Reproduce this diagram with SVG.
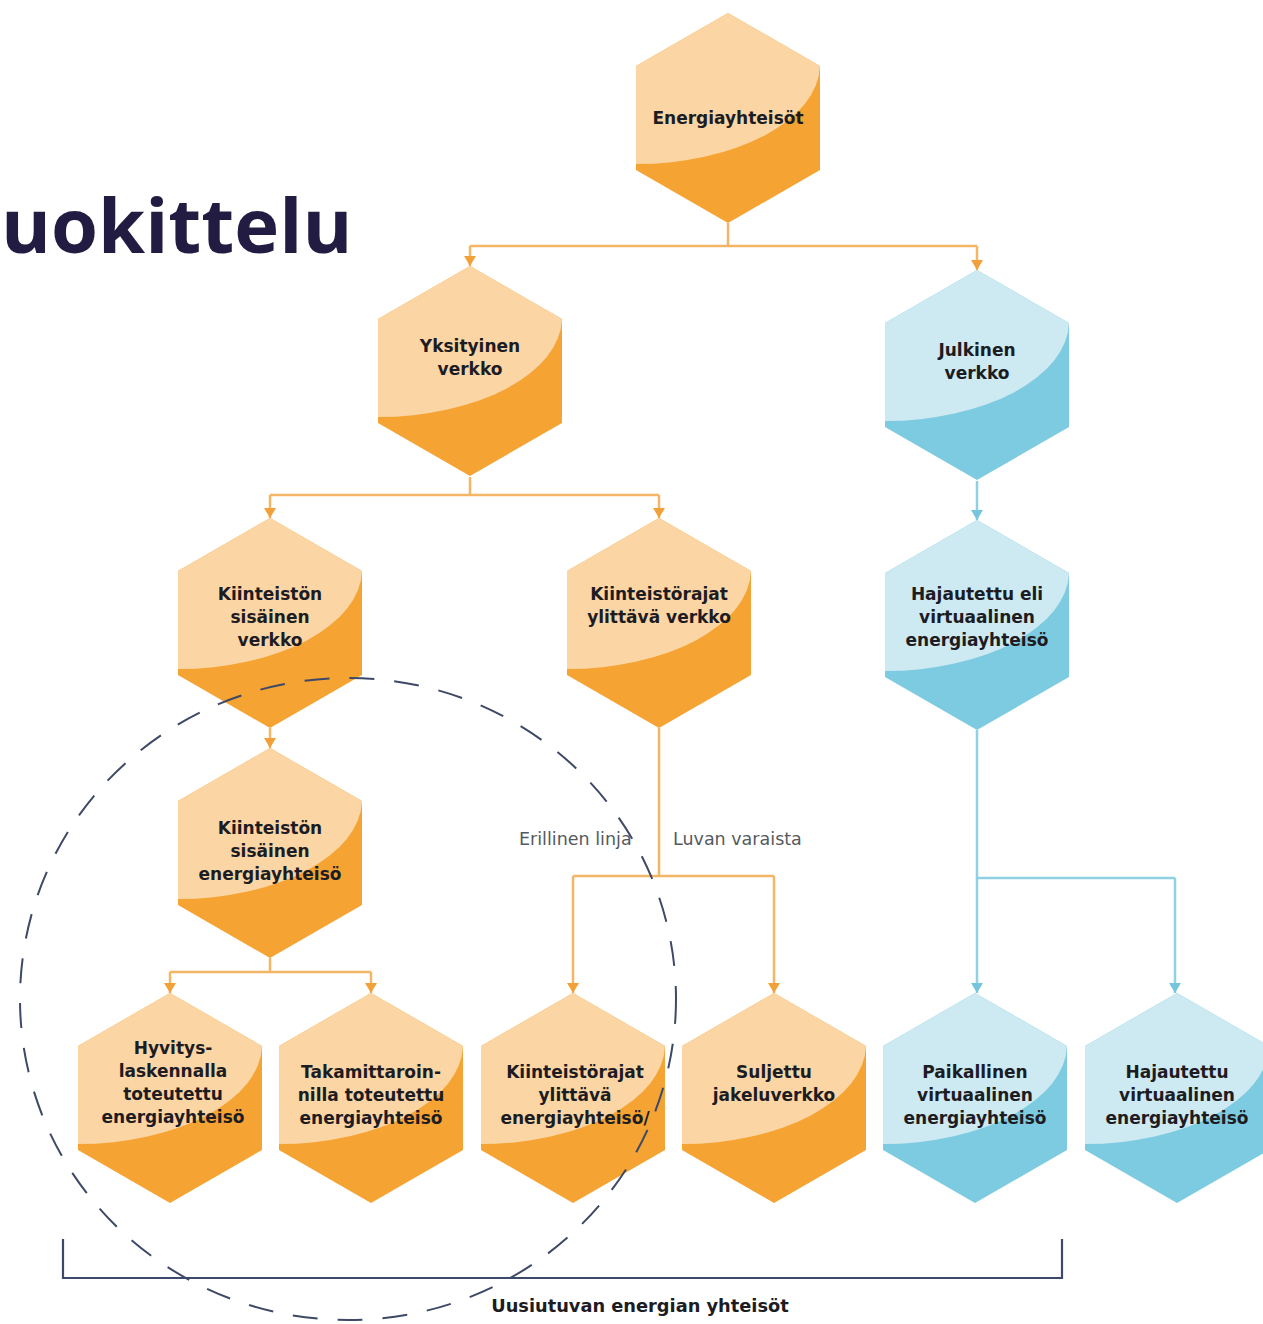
<svg xmlns="http://www.w3.org/2000/svg" xmlns:xlink="http://www.w3.org/1999/xlink" width="1263" height="1324" viewBox="0 0 1263 1324">
<style>
.oD{fill:#f5a333}.oL{fill:#fbd6a4}.bD{fill:#7dcbe0}.bL{fill:#cde9f2}
.t{font-family:"DejaVu Sans",sans-serif;font-weight:bold;font-size:17px;fill:#1c1c22;text-anchor:middle}
.lo{fill:none;stroke:#f4b666;stroke-width:2.5}
.lb{fill:none;stroke:#8fd1e3;stroke-width:2.5}
.lab{font-family:"DejaVu Sans",sans-serif;font-size:17.5px;fill:#555a61}
</style>
<defs>
<path id="hex" d="M0,-105 L92,-52 L92,52 L0,105 L-92,52 L-92,-52 Z"/>
<path id="lit" d="M-92,46 L-92,-52 L0,-105 L92,-52 A184,100 0 0 1 -92,46 Z"/>
<marker id="ao" viewBox="0 -6 10 12" refX="10" refY="0" markerWidth="10" markerHeight="12" markerUnits="userSpaceOnUse" orient="auto"><path d="M0,-6 L10,0 L0,6 Z" fill="#f2a038"/></marker>
<marker id="ab" viewBox="0 -6 10 12" refX="10" refY="0" markerWidth="10" markerHeight="12" markerUnits="userSpaceOnUse" orient="auto"><path d="M0,-6 L10,0 L0,6 Z" fill="#74c5dd"/></marker>
</defs>
<rect width="1263" height="1324" fill="#ffffff"/>
<text x="1" y="253" style="font-family:'Open Sans',sans-serif;font-weight:bold;font-size:76px;fill:#231c42">uokittelu</text>

<g id="connectors">
<path class="lo" d="M728,223 V246 M470,246 H977"/>
<path class="lo" d="M470,246 V266" marker-end="url(#ao)"/>
<path class="lo" d="M977,246 V270" marker-end="url(#ao)"/>
<path class="lo" d="M470,477 V495 M270,495 H659"/>
<path class="lo" d="M270,495 V518" marker-end="url(#ao)"/>
<path class="lo" d="M659,495 V518" marker-end="url(#ao)"/>
<path class="lb" d="M977,481 V520" marker-end="url(#ab)"/>
<path class="lo" d="M270,728 V748" marker-end="url(#ao)"/>
<path class="lo" d="M270,958 V972 M170,972 H371"/>
<path class="lo" d="M170,972 V993" marker-end="url(#ao)"/>
<path class="lo" d="M371,972 V993" marker-end="url(#ao)"/>
<path class="lo" d="M659,728 V876 M573,876 H774"/>
<path class="lo" d="M573,876 V993" marker-end="url(#ao)"/>
<path class="lo" d="M774,876 V993" marker-end="url(#ao)"/>
<path class="lb" d="M977,730 V878 H1175"/>
<path class="lb" d="M977,878 V993" marker-end="url(#ab)"/>
<path class="lb" d="M1175,878 V993" marker-end="url(#ab)"/>
<text class="lab" x="519" y="845">Erillinen linja</text>
<text class="lab" x="673" y="845">Luvan varaista</text>
</g>

<g id="n1" transform="translate(728,118)"><use href="#hex" class="oD"/><use href="#lit" class="oL"/><text class="t" y="6">Energiayhteisöt</text></g>
<g id="n2" transform="translate(470,371)"><use href="#hex" class="oD"/><use href="#lit" class="oL"/><text class="t" y="-19">Yksityinen</text><text class="t" y="4">verkko</text></g>
<g id="n3" transform="translate(977,375)"><use href="#hex" class="bD"/><use href="#lit" class="bL"/><text class="t" y="-19">Julkinen</text><text class="t" y="4">verkko</text></g>
<g id="n4" transform="translate(270,623)"><use href="#hex" class="oD"/><use href="#lit" class="oL"/><text class="t" y="-23">Kiinteistön</text><text class="t" y="0">sisäinen</text><text class="t" y="23">verkko</text></g>
<g id="n5" transform="translate(659,623)"><use href="#hex" class="oD"/><use href="#lit" class="oL"/><text class="t" y="-23">Kiinteistörajat</text><text class="t" y="0">ylittävä verkko</text></g>
<g id="n6" transform="translate(977,625)"><use href="#hex" class="bD"/><use href="#lit" class="bL"/><text class="t" y="-25">Hajautettu eli</text><text class="t" y="-2">virtuaalinen</text><text class="t" y="21">energiayhteisö</text></g>
<g id="n7" transform="translate(270,853)"><use href="#hex" class="oD"/><use href="#lit" class="oL"/><text class="t" y="-19">Kiinteistön</text><text class="t" y="4">sisäinen</text><text class="t" y="27">energiayhteisö</text></g>
<g id="n8" transform="translate(170,1098)"><use href="#hex" class="oD"/><use href="#lit" class="oL"/><text class="t" x="3" y="-44">Hyvitys-</text><text class="t" x="3" y="-21">laskennalla</text><text class="t" x="3" y="2">toteutettu</text><text class="t" x="3" y="25">energiayhteisö</text></g>
<g id="n9" transform="translate(371,1098)"><use href="#hex" class="oD"/><use href="#lit" class="oL"/><text class="t" y="-20">Takamittaroin-</text><text class="t" y="3">nilla toteutettu</text><text class="t" y="26">energiayhteisö</text></g>
<g id="n10" transform="translate(573,1098)"><use href="#hex" class="oD"/><use href="#lit" class="oL"/><text class="t" x="2" y="-20">Kiinteistörajat</text><text class="t" x="2" y="3">ylittävä</text><text class="t" x="2" y="26">energiayhteisö/</text></g>
<g id="n11" transform="translate(774,1098)"><use href="#hex" class="oD"/><use href="#lit" class="oL"/><text class="t" y="-20">Suljettu</text><text class="t" y="3">jakeluverkko</text></g>
<g id="n12" transform="translate(975,1098)"><use href="#hex" class="bD"/><use href="#lit" class="bL"/><text class="t" y="-20">Paikallinen</text><text class="t" y="3">virtuaalinen</text><text class="t" y="26">energiayhteisö</text></g>
<g id="n13" transform="translate(1177,1098)"><use href="#hex" class="bD"/><use href="#lit" class="bL"/><text class="t" y="-20">Hajautettu</text><text class="t" y="3">virtuaalinen</text><text class="t" y="26">energiayhteisö</text></g>

<g id="grouping">
<ellipse cx="348" cy="999" rx="328" ry="321" fill="none" stroke="#3d4966" stroke-width="2" stroke-dasharray="25 20"/>
<path d="M63,1239 V1278 H1062 V1239" fill="none" stroke="#3b4a6b" stroke-width="2.2"/>
<text x="640" y="1312" style="font-family:'DejaVu Sans',sans-serif;font-weight:bold;font-size:17.8px;fill:#1c1c22;text-anchor:middle">Uusiutuvan energian yhteisöt</text>
</g>
</svg>
